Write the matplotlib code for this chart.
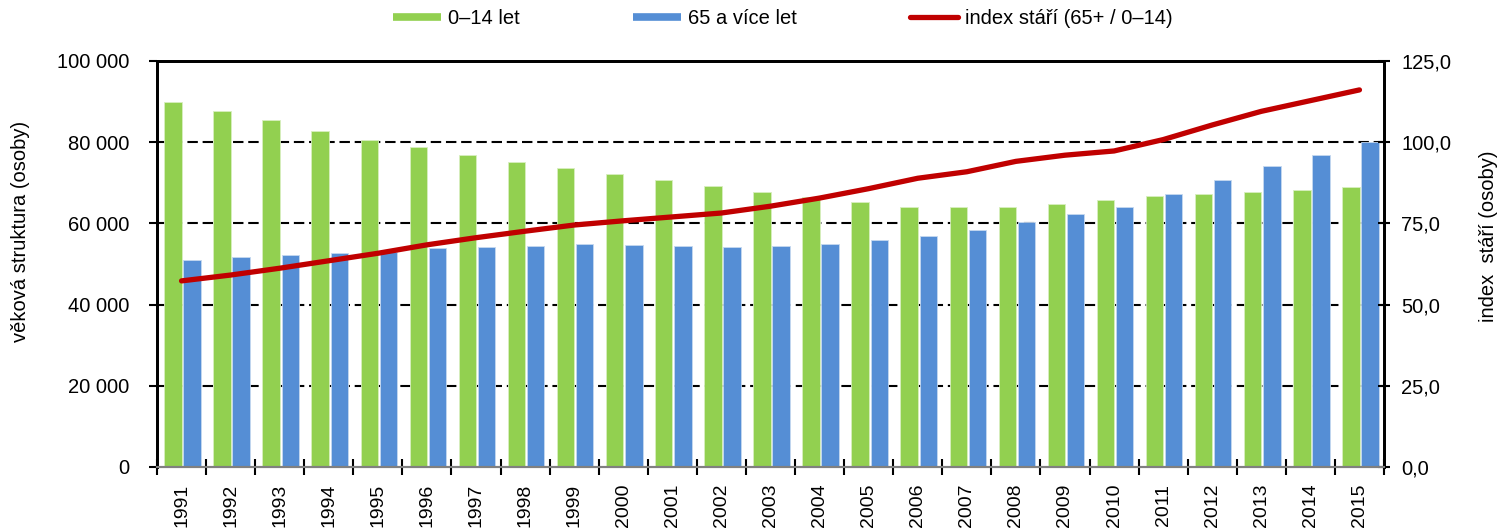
import matplotlib
matplotlib.use("Agg")
import matplotlib.pyplot as plt
from matplotlib.lines import Line2D
from matplotlib.ticker import FuncFormatter, MultipleLocator
import numpy as np

years = list(range(1991, 2016))
age_0_14 = [89900, 87750, 85400, 82800, 80500, 78800, 76800, 75100, 73600, 72200,
            70600, 69300, 67700, 66400, 65200, 64100, 64100, 64100, 64800, 65800,
            66700, 67200, 67700, 68200, 69000]
age_65_plus = [51100, 51700, 52300, 52600, 52950, 53900, 54200, 54500, 54850, 54700,
               54350, 54200, 54350, 55000, 55900, 57000, 58300, 60300, 62200, 64000,
               67200, 70800, 74100, 76900, 80100]
aging_index = [57.3, 59.1, 61.2, 63.5, 65.8, 68.4, 70.6, 72.6, 74.5, 75.8,
               77.0, 78.2, 80.3, 82.8, 85.7, 88.9, 90.9, 94.1, 96.0, 97.3,
               100.8, 105.3, 109.5, 112.8, 116.1]

plt.rcParams['font.family'] = ['Liberation Sans', 'DejaVu Sans']
FS = 14.5
GREEN = '#92D050'
BLUE = '#558ED5'
RED = '#C00000'

fig = plt.figure(figsize=(15.01, 5.29), dpi=100)
ax = fig.add_axes([157/1501, 1-467/529, (1384-157)/1501, (467-61)/529])
ax2 = ax.twinx()

x = np.arange(len(years))
w = 0.355
ax.bar(x - 0.175, age_0_14, width=w, color=GREEN, edgecolor='#d8efc0', linewidth=0.6, zorder=2)
ax.bar(x + 0.215, age_65_plus, width=w, color=BLUE, edgecolor='#c5d8f0', linewidth=0.6, zorder=2)

ax.set_xlim(-0.5, len(years) - 0.5)
ax.set_ylim(0, 100000)
ax.yaxis.set_major_locator(MultipleLocator(20000))
ax.yaxis.set_major_formatter(FuncFormatter(lambda v, p: f"{int(v):,}".replace(",", " ")))
for gy in [20000, 40000, 60000, 80000]:
    ax.axhline(gy, color='black', linestyle=(0, (5, 2.3)), linewidth=1.5, zorder=1)

ax.set_xticks(x)
ax.set_xticklabels([str(y) for y in years], rotation=90, fontsize=14)
ax.tick_params(axis='x', which='major', length=0, pad=12)
ax.set_xticks(np.arange(-0.5, len(years)), minor=True)
ax.tick_params(axis='x', which='minor', direction='inout', length=11, width=1.5, color='black')
ax.tick_params(axis='y', direction='out', length=6, width=1.5, labelsize=FS, pad=14)

ax2.plot(x, aging_index, color=RED, linewidth=3.8, solid_capstyle='round', zorder=3)
ax2.set_ylim(0, 125)
ax2.yaxis.set_major_locator(MultipleLocator(25))
ax2.yaxis.set_major_formatter(FuncFormatter(lambda v, p: f"{v:.1f}".replace(".", ",")))
ax2.tick_params(axis='y', direction='inout', length=9, width=1.5, labelsize=FS, pad=8)

for a in (ax, ax2):
    a.spines['left'].set_linewidth(2)
    a.spines['right'].set_linewidth(2)
    a.spines['top'].set_linewidth(2)
    a.spines['bottom'].set_color('#808080')
    a.spines['bottom'].set_linewidth(1.5)

ax.set_ylabel('věková struktura (osoby)', fontsize=FS)
ax.yaxis.set_label_coords(-0.1035, 0.581)
ax2.set_ylabel('index  stáří (osoby)', fontsize=FS, rotation=90)
ax2.yaxis.set_label_coords(1.0774, 0.569)

handles = [Line2D([], [], color=GREEN, linewidth=5.5, solid_capstyle='butt'),
           Line2D([], [], color=BLUE, linewidth=5.5, solid_capstyle='butt'),
           Line2D([], [], color=RED, linewidth=3.8, solid_capstyle='round')]
labels = ['0–14 let', '65 a více let', 'index stáří (65+ / 0–14)']
fig.legend(handles, labels, loc='center', bbox_to_anchor=(783/1501, 1-19/529), ncol=3,
           frameon=False, fontsize=FS, handlelength=2.4, handletextpad=0.35,
           columnspacing=5.6, borderpad=0, borderaxespad=0)

fig.savefig('out.png', dpi=100)
